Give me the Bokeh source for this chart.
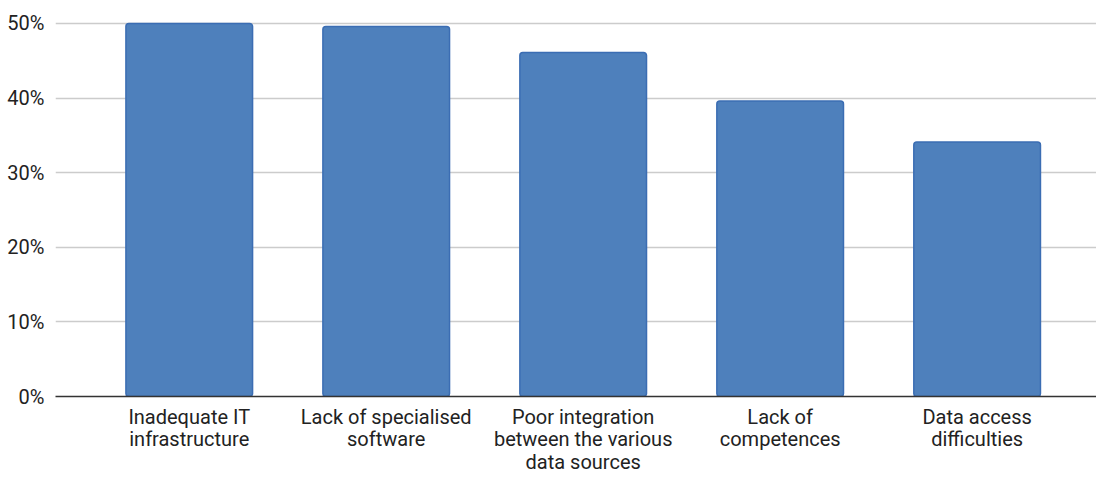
from bokeh.plotting import figure
from bokeh.models import FixedTicker, NumeralTickFormatter, Range1d
from bokeh.embed import file_html
from bokeh.resources import INLINE

categories = ["Inadequate IT\ninfrastructure", "Lack of specialised\nsoftware",
              "Poor integration\nbetween the various\ndata sources", "Lack of\ncompetences",
              "Data access\ndifficulties"]
values = [0.500, 0.496, 0.461, 0.396, 0.341]
y_ticks = [0.0, 0.1, 0.2, 0.3, 0.4, 0.5]

xs = list(range(len(categories)))

p = figure(width=1096, height=477, output_backend="svg", toolbar_location=None,
           x_range=Range1d(-0.679, 4.606), y_range=Range1d(0, 0.52),
           min_border_left=55, min_border_right=0, min_border_top=8, min_border_bottom=79)
p.outline_line_color = None
p.background_fill_color = "white"
p.border_fill_color = "white"

p.vbar(x=xs, top=values, bottom=0, width=0.643, fill_color="#4e80bc",
       line_color="#3b6db3", line_width=1.5, border_radius=3)

p.xgrid.grid_line_color = None
p.ygrid.grid_line_color = "#cccccc"
p.ygrid.grid_line_width = 1.5
p.yaxis.ticker = FixedTicker(ticks=y_ticks)
p.yaxis.formatter = NumeralTickFormatter(format="0%")
p.yaxis.axis_line_color = None
p.yaxis.major_tick_line_color = None
p.yaxis.minor_tick_line_color = None
p.yaxis.major_tick_out = 0
p.yaxis.major_tick_in = 0
p.yaxis.major_label_standoff = 11
p.yaxis.major_label_text_font = "Roboto"
p.yaxis.major_label_text_font_size = "20px"
p.yaxis.major_label_text_color = "#222222"

p.xaxis.ticker = FixedTicker(ticks=xs)
p.xaxis.major_label_overrides = {i: c for i, c in enumerate(categories)}
p.xaxis.axis_line_color = "#333333"
p.xaxis.axis_line_width = 1.5
p.xaxis.major_tick_line_color = None
p.xaxis.minor_tick_line_color = None
p.xaxis.major_tick_out = 0
p.xaxis.major_tick_in = 0
p.xaxis.major_label_standoff = 8
p.xaxis.major_label_text_font = "Roboto"
p.xaxis.major_label_text_font_size = "20px"
p.xaxis.major_label_text_color = "#222222"
p.xaxis.major_label_text_line_height = 0.95

open("out.html", "w").write(file_html(p, INLINE))
